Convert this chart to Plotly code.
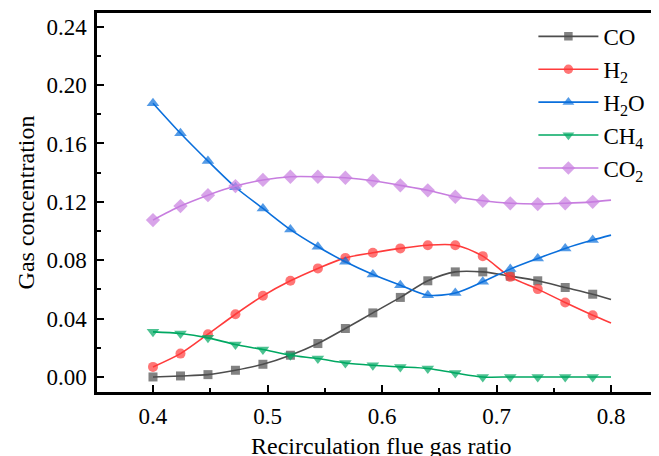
import plotly.graph_objects as go

# x positions of the sampled points (markers at 0.4 .. 0.784, line ends at 0.8)
x_vals = [0.400, 0.424, 0.448, 0.472, 0.496, 0.520, 0.544, 0.568, 0.592,
          0.616, 0.640, 0.664, 0.688, 0.712, 0.736, 0.760, 0.784, 0.800]

co = [0.0000, 0.0007, 0.0016, 0.0046, 0.0087, 0.0149, 0.0229, 0.0332, 0.0439,
      0.0545, 0.0659, 0.0720, 0.0720, 0.0691, 0.0659, 0.0613, 0.0567, 0.0531]
h2 = [0.0069, 0.0160, 0.0293, 0.0430, 0.0556, 0.0659, 0.0744, 0.0816, 0.0851,
      0.0881, 0.0903, 0.0903, 0.0828, 0.0686, 0.0602, 0.0510, 0.0423, 0.0370]
h2o = [0.1876, 0.1670, 0.1480, 0.1300, 0.1155, 0.1010, 0.0892, 0.0789, 0.0702,
       0.0629, 0.0560, 0.0575, 0.0652, 0.0739, 0.0812, 0.0881, 0.0938, 0.0972]
ch4 = [0.0309, 0.0298, 0.0268, 0.0222, 0.0188, 0.0149, 0.0126, 0.0096, 0.0080,
       0.0069, 0.0058, 0.0027, 0.0000, 0.0000, 0.0000, 0.0000, 0.0000, 0.0000]
co2 = [0.1075, 0.1171, 0.1246, 0.1308, 0.1350, 0.1372, 0.1372, 0.1365, 0.1345,
       0.1313, 0.1279, 0.1235, 0.1207, 0.1190, 0.1185, 0.1190, 0.1200, 0.1212]

series_names = ["CO", "H<sub>2</sub>", "H<sub>2</sub>O", "CH<sub>4</sub>", "CO<sub>2</sub>"]
series_values = [co, h2, h2o, ch4, co2]
line_colors = ["#4d4d4d", "#ff3b3b", "#0a6fdc", "#00a862", "#c77ddf"]
symbols = ["square", "circle", "triangle-up", "triangle-down", "diamond"]
msizes = [9, 10, 11, 11, 11]

x_ticks = [0.4, 0.5, 0.6, 0.7, 0.8]
x_ticktext = ["0.4", "0.5", "0.6", "0.7", "0.8"]
y_ticks = [0.0, 0.04, 0.08, 0.12, 0.16, 0.20, 0.24]
y_ticktext = ["0.00", "0.04", "0.08", "0.12", "0.16", "0.20", "0.24"]
x_title = "Recirculation flue gas ratio"
y_title = "Gas concentration"

font_family = "Liberation Serif, Times New Roman, serif"

fig = go.Figure()
for name, vals, col, sym, ms in zip(series_names, series_values, line_colors, symbols, msizes):
    sizes = [ms] * (len(x_vals) - 1) + [0]
    fig.add_trace(go.Scatter(
        x=x_vals, y=vals, name=name, mode="lines+markers",
        line=dict(color=col, width=1.6, shape="spline", smoothing=0.8),
        marker=dict(symbol=sym, size=sizes, color=col, line=dict(width=0)),
    ))

# page body has an 8px default margin, so the figure is sized to fit the window
fig.update_layout(
    width=651, height=448,
    margin=dict(l=89, r=0, t=5, b=64, autoexpand=False),
    paper_bgcolor="white", plot_bgcolor="white",
    font=dict(family=font_family, size=23, color="black"),
    legend=dict(
        x=0.7765, y=0.995, xanchor="left", yanchor="top",
        bgcolor="rgba(0,0,0,0)", font=dict(size=23, family=font_family),
        itemwidth=60, tracegroupgap=0,
    ),
    showlegend=True,
)

# x-axis title as an annotation so it can sit partly below the visible page, as in the reference
fig.add_annotation(
    text=x_title, xref="paper", yref="paper", x=0.507, y=-0.1425,
    xanchor="center", yanchor="middle", showarrow=False,
    font=dict(size=24, family=font_family, color="black"),
)

fig.update_xaxes(
    range=[0.3511, 0.8419],
    tickvals=x_ticks, ticktext=x_ticktext,
    ticks="inside", ticklen=7, tickwidth=2, tickcolor="black",
    minor=dict(tickvals=[0.45, 0.55, 0.65, 0.75], ticks="inside", ticklen=4, tickwidth=2, tickcolor="black"),
    showline=True, linewidth=2.5, linecolor="black", mirror=True,
    showgrid=False, zeroline=False, automargin=False,
    tickfont=dict(size=23), ticklabelstandoff=2,
)
fig.update_yaxes(
    range=[-0.0103, 0.2494],
    tickvals=y_ticks, ticktext=y_ticktext,
    ticks="inside", ticklen=7, tickwidth=2, tickcolor="black",
    minor=dict(tickvals=[0.02, 0.06, 0.10, 0.14, 0.18, 0.22], ticks="inside", ticklen=4, tickwidth=2, tickcolor="black"),
    showline=True, linewidth=2.5, linecolor="black", mirror=False,
    showgrid=False, zeroline=False, automargin=False,
    tickfont=dict(size=23), ticklabelstandoff=3,
    title=dict(text=y_title, font=dict(size=24), standoff=6),
)

fig.write_html("out.html")
